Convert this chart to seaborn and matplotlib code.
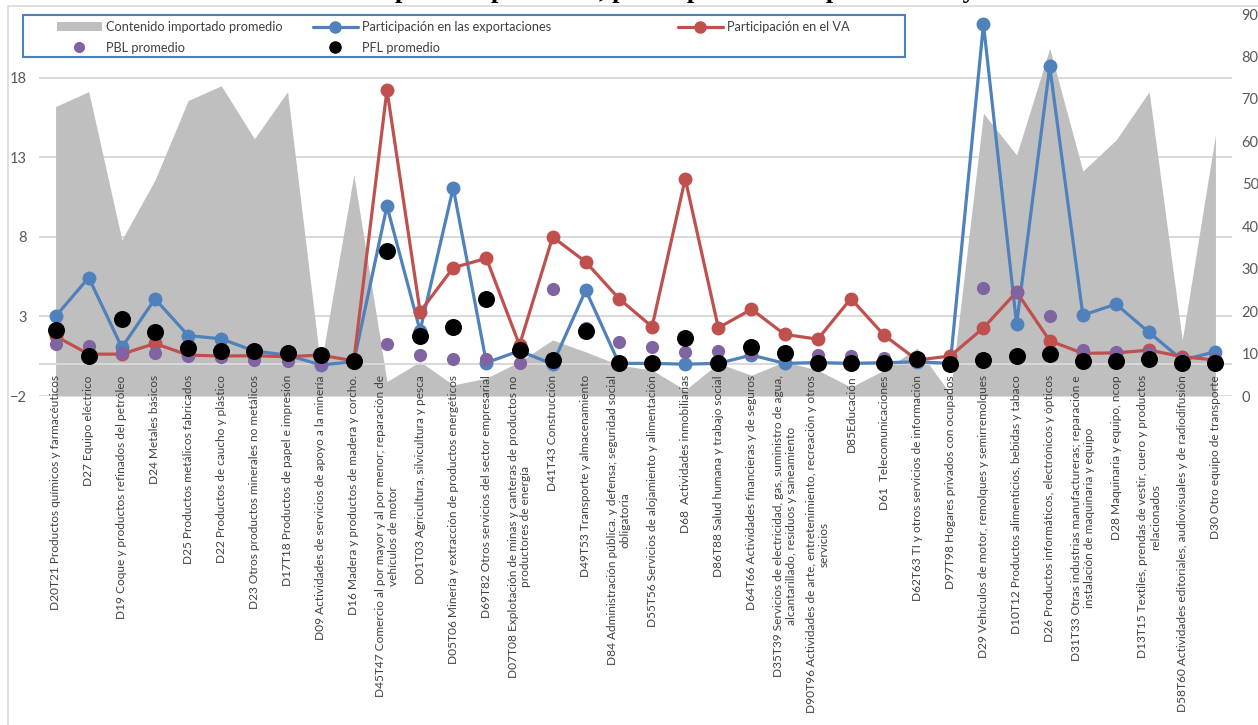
import numpy as np
import pandas as pd
import matplotlib
matplotlib.use("Agg")
import matplotlib.pyplot as plt
import seaborn as sns
from matplotlib.lines import Line2D
from matplotlib.patches import Patch, Rectangle

# sectores (etiquetas del eje x)
sectores = [
    "D20T21 Productos químicos y farmacéuticos",
    "D27 Equipo eléctrico",
    "D19 Coque y productos refinados del petróleo",
    "D24 Metales básicos",
    "D25 Productos metálicos fabricados",
    "D22 Productos de caucho y plástico",
    "D23 Otros productos minerales no metálicos",
    "D17T18 Productos de papel e impresión",
    "D09 Actividades de servicios de apoyo a la minería",
    "D16 Madera y productos de madera y corcho.",
    "D45T47 Comercio al por mayor y al por menor; reparación de\nvehículos de motor",
    "D01T03 Agricultura, silvicultura y pesca",
    "D05T06 Minería y extracción de productos energéticos",
    "D69T82 Otros servicios del sector empresarial",
    "D07T08 Explotación de minas y canteras de productos no\nproductores de energía",
    "D41T43 Construcción",
    "D49T53 Transporte y almacenamiento",
    "D84 Administración pública. y defensa; seguridad social\nobligatoria",
    "D55T56 Servicios de alojamiento y alimentación",
    "D68  Actividades inmobiliarias",
    "D86T88 Salud humana y trabajo social",
    "D64T66 Actividades financieras y de seguros",
    "D35T39 Servicios de electricidad, gas, suministro de agua,\nalcantarillado, residuos y saneamiento",
    "D90T96 Actividades de arte, entretenimiento, recreación y otros\nservicios",
    "D85Educación",
    "D61  Telecomunicaciones",
    "D62T63 TI y otros servicios de información",
    "D97T98 Hogares privados con ocupados",
    "D29 Vehículos de motor, remolques y semirremolques",
    "D10T12 Productos alimenticios, bebidas y tabaco",
    "D26 Productos informáticos, electrónicos y ópticos",
    "D31T33 Otras industrias manufactureras; reparación e\ninstalación de maquinaria y equipo",
    "D28 Maquinaria y equipo, ncop",
    "D13T15 Textiles, prendas de vestir, cuero y productos\nrelacionados",
    "D58T60 Actividades editoriales, audiovisuales y de radiodifusión",
    "D30 Otro equipo de transporte",
]

# eje derecho
contenido_importado = [68.2, 71.7, 36.8, 50.9, 69.6, 73.1, 60.6, 71.7, 7.0, 52.1,
                       3.4, 8.1, 2.6, 4.2, 8.1, 13.2, 10.4, 7.3, 6.1, 1.4,
                       7.7, 4.9, 8.1, 6.1, 2.1, 6.1, 11.3, 0.5, 66.6, 56.8,
                       81.9, 53.0, 60.3, 71.7, 13.2, 61.5]

# eje izquierdo
part_exportaciones = [3.0, 5.44, 1.05, 4.10, 1.80, 1.59, 0.82, 0.57, -0.05, 0.15,
                      9.93, 2.1, 11.08, 0.09, 0.84, 0.0, 4.65, 0.05, 0.05, 0.0,
                      0.05, 0.57, 0.05, 0.1, 0.05, 0.09, 0.15, 0.05, 21.37, 2.51,
                      18.71, 3.08, 3.77, 1.99, 0.26, 0.78]
part_va = [1.76, 0.63, 0.63, 1.30, 0.57, 0.51, 0.53, 0.47, 0.57, 0.21,
           17.23, 3.29, 6.06, 6.65, 1.20, 7.99, 6.42, 4.12, 2.35, 11.65,
           2.28, 3.45, 1.87, 1.57, 4.12, 1.82, 0.26, 0.51, 2.28, 4.54,
           1.47, 0.68, 0.71, 0.88, 0.47, 0.26]
pbl = [1.24, 1.13, 0.71, 0.68, 0.51, 0.42, 0.26, 0.19, -0.01, 0.05,
       1.24, 0.59, 0.32, 0.32, 0.09, 4.73, 2.3, 1.41, 1.05, 0.78,
       0.82, 0.68, 0.7, 0.57, 0.51, 0.38, 0.3, 0.1, 4.79, 4.54,
       3.03, 0.88, 0.78, 0.71, 0.3, 0.3]
pfl = [2.14, 0.53, 2.81, 2.03, 0.99, 0.82, 0.84, 0.68, 0.57, 0.21,
       7.09, 1.80, 2.35, 4.12, 0.88, 0.26, 2.08, 0.05, 0.05, 1.62,
       0.09, 1.05, 0.71, 0.05, 0.05, 0.09, 0.30, 0.0, 0.26, 0.51,
       0.63, 0.19, 0.21, 0.32, 0.09, 0.05]

left_ticks = [-2, 3, 8, 13, 18]
right_ticks = [0, 10, 20, 30, 40, 50, 60, 70, 80, 90]

titulo = "Contenido importado promedio, participación en exportaciones y VA"

AZUL = "#4F81BD"
ROJO = "#C0504D"
MORADO = "#8064A2"
GRIS = "#BFBFBF"
GRID = "#D9D9D9"
TXT = "#404040"

df = pd.DataFrame({
    "x": np.arange(len(sectores)),
    "importado": contenido_importado,
    "export": part_exportaciones,
    "va": part_va,
    "pbl": pbl,
    "pfl": pfl,
})

sns.set_style("white")
plt.rcParams['font.family'] = ['Lato', 'DejaVu Sans']

W, H = 1258, 725
fig = plt.figure(figsize=(W / 100, H / 100), dpi=100)
L, R = 39 / W, 1232 / W
B, T = 1 - 396 / H, 1 - 14 / H
ax = fig.add_axes([L, B, R - L, T - B])
ax_area = ax.twinx()
ax_lin = ax.twinx()

# base: grid + eje izquierdo
ax.set_xlim(-0.5, len(sectores) - 0.5)
ax.set_ylim(-2, 22)
ax.set_yticks(left_ticks)
ax.grid(axis='y', color=GRID, lw=1.4)
ax.grid(axis='x', visible=False)
ax.tick_params(axis='y', length=0, pad=9, labelsize=10.5, labelcolor="#595959")
ax.tick_params(axis='x', length=0, labelbottom=False)

# area en eje derecho
ax_area.fill_between(df["x"], 0, df["importado"], color=GRIS, lw=0)
ax_area.set_ylim(0, 90)
ax_area.set_yticks(right_ticks)
ax_area.tick_params(axis='y', length=0, pad=7, labelsize=10.5, labelcolor="#595959")

# lineas y puntos
ax_lin.set_ylim(-2, 22)
ax_lin.set_yticks([])
ax_lin.axhline(0, color=GRID, lw=1.4, zorder=1)
sns.lineplot(data=df, x="x", y="export", ax=ax_lin, color=AZUL, lw=2.3,
             marker='o', markersize=10, markeredgewidth=0, zorder=2)
sns.lineplot(data=df, x="x", y="va", ax=ax_lin, color=ROJO, lw=2.3,
             marker='o', markersize=10, markeredgewidth=0, zorder=2.5)
sns.scatterplot(data=df, x="x", y="pbl", ax=ax_lin, color=MORADO, s=90,
                linewidth=0, zorder=3)
sns.scatterplot(data=df, x="x", y="pfl", ax=ax_lin, color="black", s=150,
                linewidth=0, zorder=4)
ax_lin.set_xlabel("")
ax_lin.set_ylabel("")
ax_lin.xaxis.set_visible(True)
ax_lin.set_xticks(df["x"])
ax_lin.set_xticklabels(sectores, rotation=90, ha='center', va='top',
                       multialignment='center', fontsize=8.6, color=TXT)
ax_lin.tick_params(axis='x', length=0, pad=-15, labelbottom=True)
ax_lin.set_xlim(-0.5, len(sectores) - 0.5)

for a in (ax, ax_area, ax_lin):
    for s in a.spines.values():
        s.set_visible(False)
    a.set_xlabel("")
    a.set_ylabel("")

# borde del grafico
fig.patches.append(Rectangle((8 / W, -0.1), 1.2, 1 - 6 / H + 0.1, transform=fig.transFigure,
                             fill=False, edgecolor=GRID, lw=1.2, zorder=0.5))

# titulo (cortado en la parte superior, como en el original)
fig.text(0.5, 1 + 2.5 / H, titulo, ha='center', va='baseline', fontsize=19,
         family=['Liberation Serif', 'DejaVu Serif'], weight='bold', color='black')

# leyenda
fig.patches.append(Rectangle((23 / W, 1 - 57 / H), 882 / W, 42 / H, transform=fig.transFigure,
                             facecolor='white', edgecolor=AZUL, lw=1.5, zorder=4))
h_area = Patch(facecolor=GRIS, edgecolor='none')
h_pbl = Line2D([], [], ls='none', marker='o', color=MORADO, ms=7)
h_exp = Line2D([], [], color=AZUL, lw=2.3, marker='o', ms=8)
h_pfl = Line2D([], [], ls='none', marker='o', color='black', ms=8)
h_va = Line2D([], [], color=ROJO, lw=2.3, marker='o', ms=8)
cols = [
    (57, [h_area, h_pbl], ["Contenido importado promedio", "PBL promedio"]),
    (313, [h_exp, h_pfl], ["Participación en las exportaciones", "PFL promedio"]),
    (678, [h_va], ["Participación en el VA"]),
]
for x0, hs, ls in cols:
    leg = fig.legend(hs, ls, loc='upper left', bbox_to_anchor=(x0 / W, 1 - 21 / H),
                     bbox_transform=fig.transFigure, frameon=False, borderpad=0,
                     borderaxespad=0, handlelength=3.5, handletextpad=0.35,
                     labelspacing=0.7, fontsize=9.2, numpoints=1)
    for t in leg.get_texts():
        t.set_color(TXT)
    leg.set_zorder(5)

fig.savefig("out.png", dpi=100)
